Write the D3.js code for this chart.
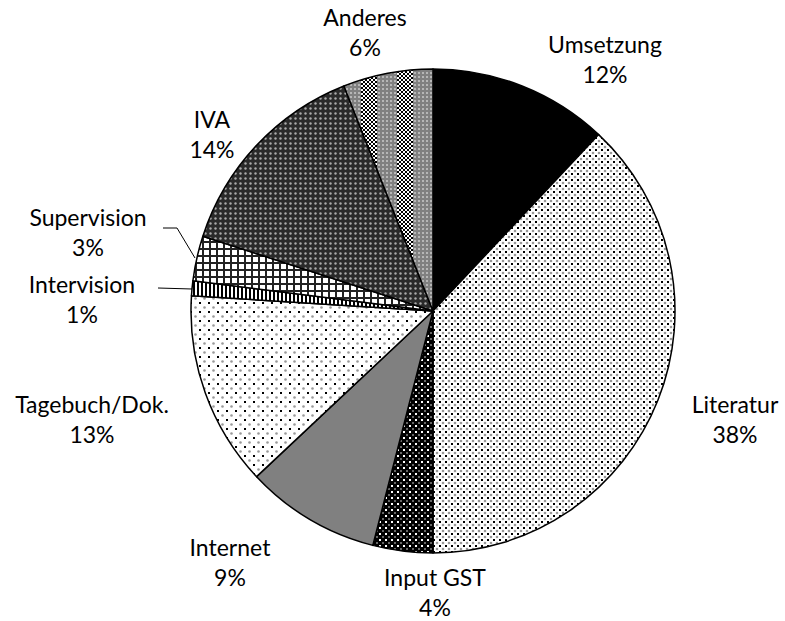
<!DOCTYPE html>
<html><head><meta charset="utf-8">
<script src="https://cdn.jsdelivr.net/npm/d3@7"></script>
<style>body{margin:0;background:#fff}svg{display:block}text{font-family:Lato,"Open Sans",sans-serif;font-size:23px;fill:#000}</style>
</head><body>
<svg id="c" width="785" height="621"></svg>
<script>
const categories = ["Umsetzung","Literatur","Input GST","Internet","Tagebuch/Dok.","Intervision","Supervision","IVA","Anderes"];
const values = [12,38,4,9,13,1,3,14,6];
const labels = ["12%","38%","4%","9%","13%","1%","3%","14%","6%"];

const svg = d3.select("#c");
const defs = svg.append("defs");
function pat(id,w,h,draw){const p=defs.append("pattern").attr("id",id).attr("patternUnits","userSpaceOnUse").attr("width",w).attr("height",h);draw(p);}
pat("p0",4,4,p=>p.append("rect").attr("width",4).attr("height",4).attr("fill","#000"));
pat("p1",6,6,p=>{p.append("rect").attr("width",6).attr("height",6).attr("fill","#fff");
  p.append("rect").attr("x",0).attr("y",0).attr("width",2).attr("height",2).attr("fill","#000");
  p.append("circle").attr("cx",4).attr("cy",4).attr("r",1.3).attr("fill","#999");});
pat("p2",6,6,p=>{p.append("rect").attr("width",6).attr("height",6).attr("fill","#000");
  p.append("rect").attr("x",0).attr("y",0).attr("width",2).attr("height",2).attr("fill","#fff");
  p.append("circle").attr("cx",4).attr("cy",4).attr("r",1).attr("fill","#888");});
pat("p3",4,4,p=>p.append("rect").attr("width",4).attr("height",4).attr("fill","#808080"));
pat("p4",9,9,p=>{p.append("rect").attr("width",9).attr("height",9).attr("fill","#fff");
  p.append("rect").attr("x",0).attr("y",0).attr("width",2).attr("height",2).attr("fill","#000");
  p.append("circle").attr("cx",5.5).attr("cy",5.5).attr("r",1.3).attr("fill","#999");});
pat("p5",4,4,p=>{p.append("rect").attr("width",4).attr("height",4).attr("fill","#fff");
  p.append("rect").attr("width",2).attr("height",4).attr("fill","#000");});
pat("p6",7,7,p=>{p.append("rect").attr("width",7).attr("height",7).attr("fill","#fff");
  p.append("rect").attr("width",7).attr("height",2).attr("fill","#222");
  p.append("rect").attr("width",2).attr("height",7).attr("fill","#222");});
pat("p7",5,5,p=>{p.append("rect").attr("width",5).attr("height",5).attr("fill","#2a2a2a");
  p.append("circle").attr("cx",2.5).attr("cy",2.5).attr("r",1.2).attr("fill","#aaa");});
pat("p8",36,36,p=>{p.append("rect").attr("width",36).attr("height",36).attr("fill","#808080");
  for(let i=0;i<8;i++)for(let j=0;j<18;j++){ p.append("rect").attr("x",i*2).attr("y",j*2).attr("width",2).attr("height",2).attr("fill",(i+j)%2===0?"#000":"#fff");}
  for(let i=0;i<5;i++)for(let j=0;j<9;j++) p.append("circle").attr("cx",18+i*4).attr("cy",2+j*4).attr("r",1).attr("fill","#c8c8c8");});

const cx=433, cy=311, r=242;
const pie = d3.pie().sort(null).value(d=>d);
const arcs = pie(values);
const arc = d3.arc().innerRadius(0).outerRadius(r);
const g = svg.append("g").attr("transform",`translate(${cx},${cy})`);
g.selectAll("path").data(arcs).join("path").attr("d",arc)
  .attr("fill",(d,i)=>`url(#p${i})`).attr("stroke","#000").attr("stroke-width",1.5).attr("stroke-linejoin","round");

const labelPos = [[605,53],[735,413],[435,586],[230,556],[92,413],[82,293],[88,226],[212,128],[365,26]];
const tg = svg.append("g");
categories.forEach((c,i)=>{
  const [x,y]=labelPos[i];
  tg.append("text").attr("x",x).attr("y",y).attr("text-anchor","middle").text(c);
  tg.append("text").attr("x",x).attr("y",y+30).attr("text-anchor","middle").text(labels[i]);
});
svg.append("polyline").attr("points","163,228 177,228 195,258").attr("fill","none").attr("stroke","#000").attr("stroke-width",1);
svg.append("polyline").attr("points","158,288 192,289").attr("fill","none").attr("stroke","#000").attr("stroke-width",1);
</script>
</body></html>
